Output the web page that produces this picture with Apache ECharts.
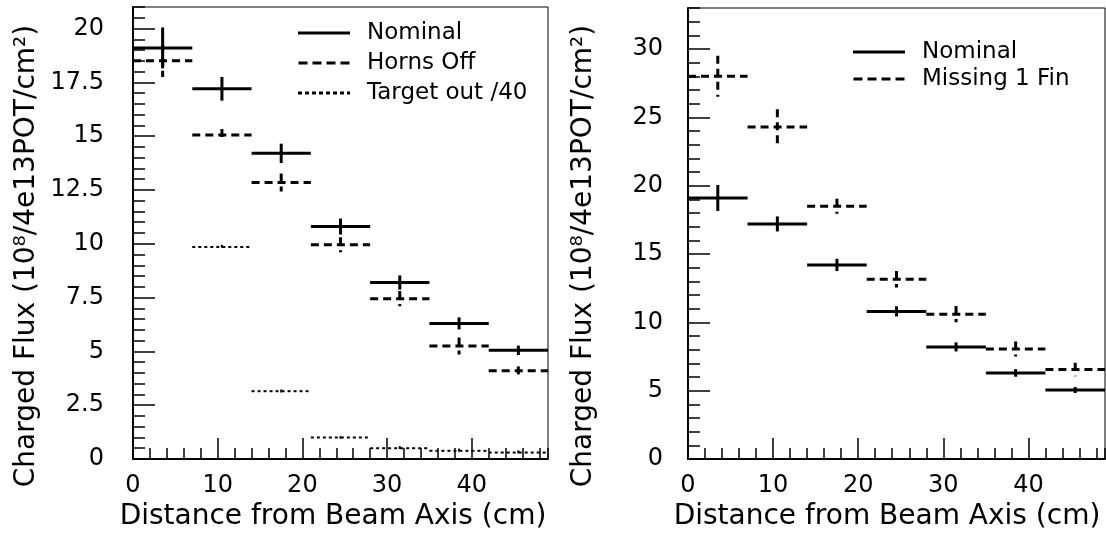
<!DOCTYPE html>
<html>
<head>
<meta charset="utf-8">
<script src="https://cdn.jsdelivr.net/npm/echarts@6/dist/echarts.min.js"></script>
<style>html,body{margin:0;padding:0;background:#fff}#c{width:1106px;height:543px}</style>
</head>
<body>
<div id="c"></div>
<script>
// ---- data ----
const binEdges = [0, 7, 14, 21, 28, 35, 42, 49];
const nominal = [19.1, 17.2, 14.2, 10.8, 8.2, 6.3, 5.05];
const nominalErr = [0.95, 0.55, 0.45, 0.37, 0.33, 0.28, 0.22];
const hornsOff = [18.5, 15.05, 12.85, 9.95, 7.45, 5.25, 4.1];
const hornsOffErr = [0.75, 0.28, 0.42, 0.35, 0.35, 0.4, 0.2];
const targetOut40 = [null, 9.85, 3.15, 1.0, 0.5, 0.38, 0.3];
const targetOut40Err = [null, 0.1, 0.08, 0.06, 0.1, 0.1, 0.1];
const missing1Fin = [28.0, 24.3, 18.5, 13.15, 10.6, 8.05, 6.55];
const missing1FinErr = [1.5, 1.3, 0.55, 0.6, 0.6, 0.55, 0.5];

const xTitle = 'Distance from Beam Axis (cm)';
const yTitle = 'Charged Flux (10\u2078/4e13POT/cm\u00B2)';
const legendLeft = ['Nominal', 'Horns Off', 'Target out /40'];
const legendRight = ['Nominal', 'Missing 1 Fin'];

const FONT = 'DejaVu Sans';

function toItems(vals, errs) {
  const out = [];
  vals.forEach((v, i) => {
    if (v != null) out.push([binEdges[i], binEdges[i + 1], v, errs[i]]);
  });
  return out;
}

function makeRender(lw, dash) {
  return function (params, api) {
    const x0 = api.value(0), x1 = api.value(1), y = api.value(2), e = api.value(3);
    const pL = api.coord([x0, y]);
    const pR = api.coord([x1, y]);
    const xc = (x0 + x1) / 2;
    const pT = api.coord([xc, y + e]);
    const pB = api.coord([xc, y - e]);
    const style = { stroke: '#000', lineWidth: lw, lineDash: dash, fill: null };
    return {
      type: 'group',
      children: [
        { type: 'line', shape: { x1: pL[0], y1: pL[1], x2: pR[0], y2: pR[1] }, style: style },
        { type: 'line', shape: { x1: pT[0], y1: pT[1], x2: pB[0], y2: pB[1] }, style: style }
      ]
    };
  };
}

function mainX(grid, padR) {
  return {
    type: 'value', gridIndex: grid, min: 0, max: 49, interval: 10, position: 'bottom',
    axisLine: { show: true, onZero: false, lineStyle: { color: '#000', width: 2 } },
    axisTick: { show: true, inside: true, length: 21, lineStyle: { color: '#000', width: 1.5 } },
    axisLabel: { show: true, margin: 15, fontFamily: FONT, fontSize: 24, color: '#000', showMaxLabel: false },
    splitLine: { show: false },
    name: xTitle, nameLocation: 'middle', nameGap: 44,
    nameTextStyle: { fontFamily: FONT, fontSize: 28, color: '#000', padding: [0, padR, 0, 0] }
  };
}
function minorX(grid) {
  return {
    type: 'value', gridIndex: grid, min: 0, max: 49, interval: 2, position: 'bottom',
    axisLine: { show: false }, axisLabel: { show: false }, splitLine: { show: false },
    axisTick: { show: true, inside: true, length: 11, lineStyle: { color: '#000', width: 1.5 } }
  };
}
function mainY(grid, max, interval, padR, gap, lblMargin) {
  return {
    type: 'value', gridIndex: grid, min: 0, max: max, interval: interval, position: 'left',
    axisLine: { show: true, onZero: false, lineStyle: { color: '#000', width: 2 } },
    axisTick: { show: true, inside: true, length: 22, lineStyle: { color: '#000', width: 1.5 } },
    axisLabel: { show: true, margin: lblMargin, fontFamily: FONT, fontSize: 24, color: '#000', showMaxLabel: false },
    splitLine: { show: false },
    name: yTitle, nameLocation: 'middle', nameGap: gap,
    nameTextStyle: { fontFamily: FONT, fontSize: 28, color: '#000', padding: [0, padR, 0, 0] }
  };
}
function minorY(grid, max, interval) {
  return {
    type: 'value', gridIndex: grid, min: 0, max: max, interval: interval, position: 'left',
    axisLine: { show: false }, axisLabel: { show: false }, splitLine: { show: false },
    axisTick: { show: true, inside: true, length: 12, lineStyle: { color: '#000', width: 1.5 } }
  };
}

const solidIcon = 'path://M0,0H52V3H0Z';
const dashIcon = 'path://M0,0H9V3H0Z M14,0H23V3H14Z M28,0H37V3H28Z M42,0H51V3H42Z';
const dotIcon = 'path://M0,0H4V3H0Z M7,0H11V3H7Z M14,0H18V3H14Z M21,0H25V3H21Z M28,0H32V3H28Z M35,0H39V3H35Z M42,0H46V3H42Z M49,0H52V3H49Z';

const chart = echarts.init(document.getElementById('c'));
chart.setOption({
  animation: false,
  backgroundColor: '#fff',
  grid: [
    { left: 133, top: 7, width: 415, height: 452, show: true, borderColor: '#000', borderWidth: 1, backgroundColor: 'transparent' },
    { left: 688, top: 8, width: 417, height: 451, show: true, borderColor: '#000', borderWidth: 1, backgroundColor: 'transparent' }
  ],
  xAxis: [mainX(0, 15), minorX(0), mainX(1, 19), minorX(1)],
  yAxis: [mainY(0, 21, 2.5, 46, 92, 29), minorY(0, 21, 0.5), mainY(1, 33, 5, 45, 90, 25), minorY(1, 33, 1)],
  legend: [
    {
      orient: 'vertical', left: 293, top: 16, itemWidth: 52, itemHeight: 3, itemGap: 6,
      selectedMode: false,
      data: [
        { name: legendLeft[0], icon: solidIcon },
        { name: legendLeft[1], icon: dashIcon },
        { name: legendLeft[2], icon: dotIcon }
      ],
      textStyle: { fontFamily: FONT, fontSize: 23, color: '#000', lineHeight: 24, padding: [0, 0, 0, 12] }
    },
    {
      orient: 'vertical', left: 848, top: 35, itemWidth: 52, itemHeight: 3, itemGap: 3,
      selectedMode: false,
      data: [
        { name: legendRight[0], icon: solidIcon },
        { name: legendRight[1], icon: dashIcon }
      ],
      textStyle: { fontFamily: FONT, fontSize: 23, color: '#000', lineHeight: 24, padding: [0, 0, 0, 12] }
    }
  ],
  series: [
    { name: 'Nominal', type: 'custom', xAxisIndex: 0, yAxisIndex: 0, itemStyle: { color: '#000' },
      renderItem: makeRender(3, null), encode: { x: [0, 1], y: 2 }, data: toItems(nominal, nominalErr) },
    { name: 'Horns Off', type: 'custom', xAxisIndex: 0, yAxisIndex: 0, itemStyle: { color: '#000' },
      renderItem: makeRender(3, [8, 5]), encode: { x: [0, 1], y: 2 }, data: toItems(hornsOff, hornsOffErr) },
    { name: 'Target out /40', type: 'custom', xAxisIndex: 0, yAxisIndex: 0, itemStyle: { color: '#000' },
      renderItem: makeRender(2, [3, 3]), encode: { x: [0, 1], y: 2 }, data: toItems(targetOut40, targetOut40Err) },
    { name: 'Nominal', type: 'custom', xAxisIndex: 2, yAxisIndex: 2, itemStyle: { color: '#000' },
      renderItem: makeRender(3, null), encode: { x: [0, 1], y: 2 }, data: toItems(nominal, nominalErr) },
    { name: 'Missing 1 Fin', type: 'custom', xAxisIndex: 2, yAxisIndex: 2, itemStyle: { color: '#000' },
      renderItem: makeRender(3, [8, 5]), encode: { x: [0, 1], y: 2 }, data: toItems(missing1Fin, missing1FinErr) }
  ]
});
</script>
</body>
</html>
